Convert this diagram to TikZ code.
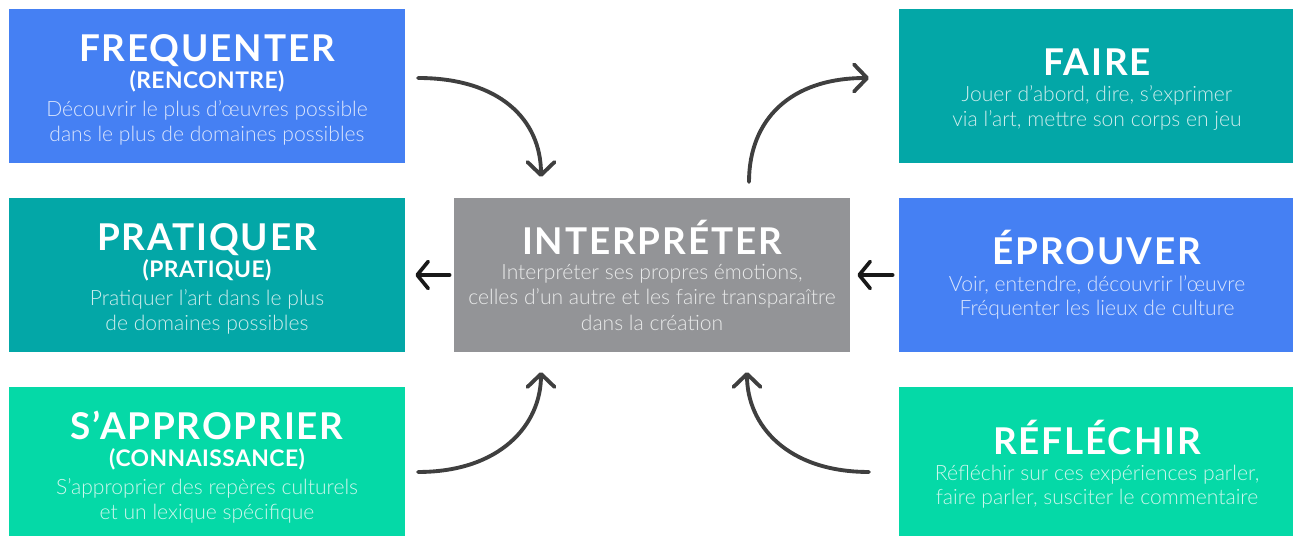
\documentclass[tikz,border=0pt]{standalone}
\usepackage{fontspec}
\setmainfont{Lato}
\newfontfamily\latolight{Lato Light}
\usetikzlibrary{arrows.meta}

\definecolor{cblue}{HTML}{4580F3}
\definecolor{cteal}{HTML}{03A7A7}
\definecolor{cgreen}{HTML}{05D9A7}
\definecolor{cgray}{HTML}{939497}
\definecolor{carrow}{HTML}{3F3F3F}

\newcommand{\titlef}{\bfseries\fontsize{21}{14}\selectfont\addfontfeature{LetterSpace=5}\vphantom{É}}
\newcommand{\subf}{\bfseries\fontsize{13}{14}\selectfont\addfontfeature{LetterSpace=2}}
\newcommand{\bodyf}[1]{\latolight\fontsize{12}{14}\selectfont\color{white!80!#1}}

\begin{document}
\begin{tikzpicture}[
  box/.style={rectangle, fill=#1, minimum width=7.92cm, minimum height=3.08cm,
    inner sep=0pt, text=white, align=center, font=\fontsize{12}{14}\selectfont},
  curvearrow/.style={carrow, line width=2.2pt, line cap=round,
    -{Straight Barb[length=0.26cm,width=0.54cm,round]}},
  shortarrow/.style={black!90, line width=2.1pt, line cap=round,
    -{Straight Barb[length=0.22cm,width=0.54cm,round]}}
]
\useasboundingbox (0,0) rectangle (25.86,10.72);

% left column
\node[box=cblue] (frequenter) at (4.14,9) {\titlef FREQUENTER\\[1.3pt]
  \subf (RENCONTRE)\\[1.9pt]
  \bodyf{cblue} Découvrir le plus d’œuvres possible\\
  \bodyf{cblue} dans le plus de domaines possibles};
\node[box=cteal] (pratiquer) at (4.14,5.22) {\titlef PRATIQUER\\[1.3pt]
  \subf (PRATIQUE)\\[1.9pt]
  \bodyf{cteal} Pratiquer l’art dans le plus\\
  \bodyf{cteal} de domaines possibles};
\node[box=cgreen] (approprier) at (4.14,1.44) {\titlef S’APPROPRIER\\[1.3pt]
  \subf (CONNAISSANCE)\\[1.9pt]
  \bodyf{cgreen} S’approprier des repères culturels\\
  \bodyf{cgreen} et un lexique spécifique};

% centre
\node[box=cgray] (interpreter) at (13.04,5.22) {\titlef INTERPRÉTER\\[0.4pt]
  \bodyf{cgray} Interpréter ses propres émotions,\\[0.4pt]
  \bodyf{cgray} celles d’un autre et les faire transparaître\\[0.4pt]
  \bodyf{cgray} dans la création};

% right column
\node[box=cteal] (faire) at (21.94,9) {\titlef FAIRE\\[0.8pt]
  \bodyf{cteal} Jouer d’abord, dire, s’exprimer\\
  \bodyf{cteal} via l’art, mettre son corps en jeu};
\node[box=cblue] (eprouver) at (21.94,5.22) {\titlef ÉPROUVER\\[0.8pt]
  \bodyf{cblue} Voir, entendre, découvrir l’œuvre\\
  \bodyf{cblue} Fréquenter les lieux de culture};
\node[box=cgreen] (reflechir) at (21.94,1.44) {\titlef RÉFLÉCHIR\\[0.8pt]
  \bodyf{cgreen} Réfléchir sur ces expériences parler,\\
  \bodyf{cgreen} faire parler, susciter le commentaire};

% curved arrows
\coordinate (fq-out) at (8.36,9.16);
\coordinate (in-top) at (10.82,7.18);
\coordinate (in-out) at (14.98,7.08);
\coordinate (fa-in) at (17.38,9.16);
\coordinate (ap-out) at (8.36,1.28);
\coordinate (in-bl) at (10.82,3.28);
\coordinate (rf-out) at (17.38,1.28);
\coordinate (in-br) at (14.94,3.28);

\draw[curvearrow] (fq-out) .. controls (10.0,9.16) and (10.82,8.32) .. (in-top);
\draw[curvearrow] (in-out) .. controls (14.98,8.32) and (15.8,9.16) .. (fa-in);
\draw[curvearrow] (ap-out) .. controls (10.0,1.28) and (10.82,2.22) .. (in-bl);
\draw[curvearrow] (rf-out) .. controls (15.74,1.28) and (14.94,2.22) .. (in-br);

% straight arrows
\draw[shortarrow, shorten <=0.08cm, shorten >=0.2cm] (interpreter.west) -- (pratiquer.east);
\draw[shortarrow, shorten <=0.12cm, shorten >=0.14cm] (eprouver.west) -- (interpreter.east);
\end{tikzpicture}
\end{document}
